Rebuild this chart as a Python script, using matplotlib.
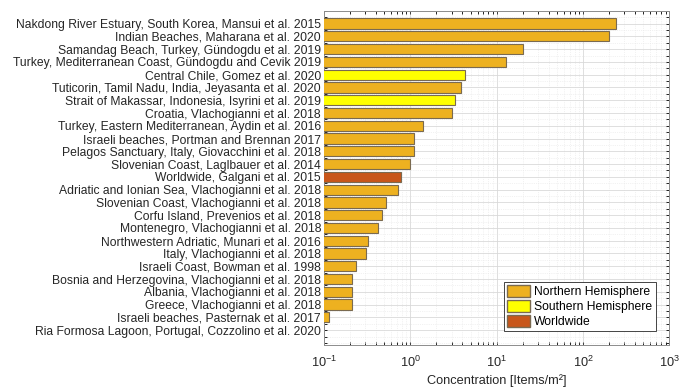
import numpy as np
import matplotlib.pyplot as plt
from matplotlib.patches import Patch

plt.rcParams['font.family'] = ['Liberation Sans', 'DejaVu Sans']
plt.rcParams['mathtext.default'] = 'regular'
plt.rcParams['axes.unicode_minus'] = False

studies = [
    "Nakdong River Estuary, South Korea, Mansui et al. 2015",
    "Indian Beaches, Maharana et al. 2020",
    "Samandag Beach, Turkey, Gündogdu et al. 2019",
    "Turkey, Mediterranean Coast, Gündogdu and Cevik 2019",
    "Central Chile, Gomez et al. 2020",
    "Tuticorin, Tamil Nadu, India, Jeyasanta et al. 2020",
    "Strait of Makassar, Indonesia, Isyrini et al. 2019",
    "Croatia, Vlachogianni et al. 2018",
    "Turkey, Eastern Mediterranean, Aydin et al. 2016",
    "Israeli beaches, Portman and Brennan 2017",
    "Pelagos Sanctuary, Italy, Giovacchini et al. 2018",
    "Slovenian Coast, Laglbauer et al. 2014",
    "Worldwide, Galgani et al. 2015",
    "Adriatic and Ionian Sea, Vlachogianni et al. 2018",
    "Slovenian Coast, Vlachogianni et al. 2018",
    "Corfu Island, Prevenios et al. 2018",
    "Montenegro, Vlachogianni et al. 2018",
    "Northwestern Adriatic, Munari et al. 2016",
    "Italy, Vlachogianni et al. 2018",
    "Israeli Coast, Bowman et al. 1998",
    "Bosnia and Herzegovina, Vlachogianni et al. 2018",
    "Albania, Vlachogianni et al. 2018",
    "Greece, Vlachogianni et al. 2018",
    "Israeli beaches, Pasternak et al. 2017",
    "Ria Formosa Lagoon, Portugal, Cozzolino et al. 2020",
]

# items per m2
concentration = [242, 200, 20, 12.7, 4.3, 3.9, 3.3, 3.0, 1.4, 1.1, 1.1, 1.0,
                 0.78, 0.73, 0.52, 0.47, 0.42, 0.325, 0.31, 0.236, 0.21,
                 0.21, 0.21, 0.115, 0.05]

# N = northern hemisphere, S = southern hemisphere, W = worldwide
region = ["N", "N", "N", "N", "S", "N", "S", "N", "N", "N", "N", "N",
          "W", "N", "N", "N", "N", "N", "N", "N", "N", "N", "N", "N", "N"]

colors = {"N": "#EDB120", "S": "#FFFF00", "W": "#C8561A"}
names = {"N": "Northern Hemisphere", "S": "Southern Hemisphere", "W": "Worldwide"}

fig = plt.figure(figsize=(6.79, 3.87), dpi=100)
ax = fig.add_axes([0.477, 0.109, 0.509, 0.863])

ypos = np.arange(1, len(studies) + 1)
base = 1e-3
ax.barh(ypos, np.array(concentration) - base, left=base, height=0.8,
        color=[colors[r] for r in region], edgecolor="#7a6a50", linewidth=0.8,
        zorder=3)

fs = 8.7
ax.set_xscale("log")
ax.set_xlim(0.1, 1000)
ax.set_ylim(26.15, 0)
ax.set_yticks(ypos)
ax.set_yticklabels(studies, fontsize=fs, color="#262626")
ax.tick_params(axis="x", labelsize=fs + 0.5, colors="#262626", pad=7)
ax.tick_params(axis="both", which="both", direction="in", top=True, right=True,
               length=2.5, width=0.6)
ax.tick_params(axis="y", pad=2)
ax.yaxis.set_minor_locator(plt.MultipleLocator(0.5))

ax.grid(True, which="major", color="#d9d9d9", linewidth=0.6, zorder=0)
ax.grid(True, which="minor", color="#e6e6e6", linewidth=0.5, linestyle=":", zorder=0)
ax.set_axisbelow(True)
for s in ax.spines.values():
    s.set_color("#8c8c8c")
    s.set_linewidth(0.7)

ax.set_xlabel("Concentration [Items/m²]", fontsize=fs + 0.5, color="#262626", labelpad=3)

handles = [Patch(facecolor=colors[k], edgecolor="#7a6a50", label=names[k])
           for k in ["N", "S", "W"]]
leg = ax.legend(handles=handles, loc="lower right", fontsize=fs, frameon=True,
                fancybox=False, edgecolor="#262626", framealpha=1,
                handlelength=1.9, handleheight=1.1, handletextpad=0.3,
                labelspacing=0.15, borderpad=0.3, borderaxespad=0,
                bbox_to_anchor=(0.96, 0.04))
leg.get_frame().set_linewidth(0.6)

fig.savefig("out.png", dpi=100)
